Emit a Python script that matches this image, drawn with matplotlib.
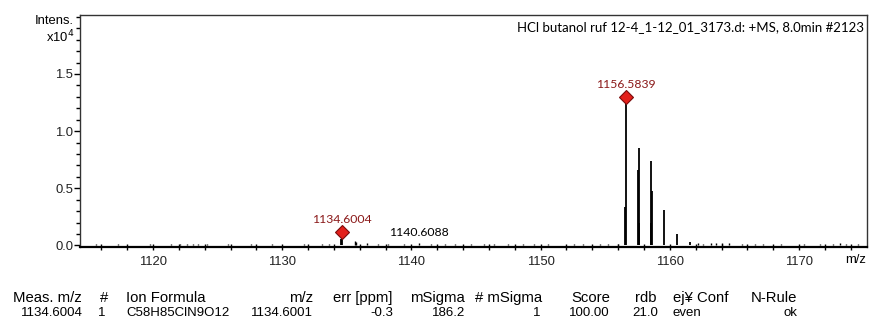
import numpy as np
import matplotlib
matplotlib.use("Agg")
import matplotlib.pyplot as plt

# spectrum data (intensity in units of 1e4)
cluster_mz = [1156.52, 1156.58, 1157.53, 1157.58, 1157.64, 1158.53, 1158.58, 1158.63, 1159.58, 1160.58, 1161.58]
cluster_int = [0.34, 1.30, 0.66, 0.85, 0.20, 0.20, 0.74, 0.48, 0.31, 0.10, 0.03]

ion_mz = [1134.58, 1134.60]
ion_int = [0.06, 0.12]

noise_mz = [1115.6, 1117.3, 1119.8, 1121.4, 1122.1, 1122.6, 1123.1, 1123.5, 1124.2, 1125.8,
            1127.6, 1129.2, 1131.7, 1133.1, 1133.6, 1135.6, 1135.7, 1136.6, 1137.4, 1138.2,
            1139.4, 1140.61, 1141.5, 1142.6, 1143.4, 1144.6, 1145.6, 1146.4, 1147.5, 1148.6,
            1149.5, 1150.6, 1152.6, 1153.3, 1154.6, 1155.2, 1156.0, 1162.2, 1162.6, 1163.2,
            1163.6, 1164.0, 1164.6, 1165.6, 1166.6, 1167.2, 1168.6, 1170.4, 1171.6, 1172.6,
            1173.2, 1173.6, 1174.6]
noise_int = [0.008, 0.010, 0.008, 0.012, 0.015, 0.010, 0.012, 0.010, 0.008, 0.010,
             0.008, 0.010, 0.008, 0.012, 0.015, 0.040, 0.030, 0.020, 0.015, 0.012,
             0.015, 0.025, 0.012, 0.015, 0.012, 0.015, 0.010, 0.012, 0.010, 0.012,
             0.010, 0.015, 0.012, 0.010, 0.012, 0.015, 0.010, 0.020, 0.015, 0.020,
             0.025, 0.020, 0.025, 0.015, 0.012, 0.010, 0.015, 0.010, 0.012, 0.015,
             0.020, 0.015, 0.012]

marked_mz = [1134.6004, 1156.5839]
marked_int = [0.12, 1.30]
plain_label_mz = 1140.6088
plain_label_int = 0.025

title = "HCl butanol ruf 12-4_1-12_01_3173.d: +MS, 8.0min #2123"

table_head = ["Meas. m/z", "#", "Ion Formula", "m/z", "err [ppm]", "mSigma", "# mSigma",
              "Score", "rdb", "ej\u00a5 Conf", "N-Rule"]
table_vals = ["1134.6004", "1", "C58H85ClN9O12", "1134.6001", "-0.3", "186.2", "1",
              "100.00", "21.0", "even", "ok"]

# pixel anchors for the table columns
head_x = [13, 100, 126, 313, 392, 465, 542, 610, 657, 673, 797]
head_ha = ["left", "left", "left", "right", "right", "right", "right", "right", "right", "left", "right"]
val_x = [83, 105, 126, 313, 393, 465, 540, 610, 658, 673, 797]
val_ha = ["right", "right", "left", "right", "right", "right", "right", "right", "right", "left", "right"]

W, H = 870, 321
fig = plt.figure(figsize=(W / 100, H / 100), dpi=100)
ax = fig.add_axes([80 / W, 1 - 246.5 / H, 787 / W, 232 / H])

ax.vlines(noise_mz, 0, noise_int, color="black", lw=1.0)
ax.vlines(ion_mz, 0, ion_int, color="black", lw=1.3)
ax.vlines(cluster_mz, 0, cluster_int, color="black", lw=1.3)
ax.plot(marked_mz, marked_int, ls="none", marker="D", ms=7,
        mfc="#e3201b", mec="#7a0c0c", mew=0.8, zorder=5)

lab_font = ["Lato", "DejaVu Sans"]
for mz, inten in zip(marked_mz, marked_int):
    ax.annotate(f"{mz:.4f}", (mz, inten), xytext=(0, 5), textcoords="offset points",
                ha="center", va="bottom", color="#8b1a1a", fontsize=8.8, family=lab_font)
ax.annotate(f"{plain_label_mz:.4f}", (plain_label_mz, plain_label_int), xytext=(0, 3),
            textcoords="offset points", ha="center", va="bottom", color="black",
            fontsize=8.8, family=lab_font)

ax.text(0.996, 0.945, title, transform=ax.transAxes, ha="right", va="center",
        fontsize=9.5, family=lab_font)

ax.set_xlim(1114.35, 1175.26)
ax.set_ylim(-0.01, 2.02)
ax.set_xticks(np.arange(1120, 1171, 10))
ax.set_xticks(np.arange(1116, 1175, 2), minor=True)
ax.set_yticks([0, 0.5, 1.0, 1.5])
ax.set_yticklabels(["0.0", "0.5", "1.0", "1.5"])
ax.set_yticks(np.arange(0, 2.01, 0.1), minor=True)

tick_font = "Liberation Sans"
for lbl in ax.get_xticklabels() + ax.get_yticklabels():
    lbl.set_family(tick_font)
    lbl.set_fontsize(9.4)
    lbl.set_color("#222222")
ax.tick_params(axis="x", which="both", direction="inout", length=5, width=1, pad=4)
ax.tick_params(axis="y", which="major", direction="out", length=4, width=1, pad=1)
ax.tick_params(axis="y", which="minor", direction="out", length=3, width=1)

for side in ["top", "right", "left"]:
    ax.spines[side].set_linewidth(1.0)
    ax.spines[side].set_color("#333333")
ax.spines["bottom"].set_linewidth(1.6)

fig.text(74 / W, 1 - 21 / H, "Intens.", ha="right", va="center", fontsize=9.4, family=tick_font)
fig.text(74 / W, 1 - 37 / H, "x10$^4$", ha="right", va="center", fontsize=9.4, family=tick_font)
fig.text(856 / W, 1 - 260 / H, "m/z", ha="center", va="center", fontsize=9.4, family=tick_font)

for txt, x, ha in zip(table_head, head_x, head_ha):
    fig.text(x / W, 1 - 297.7 / H, txt, ha=ha, va="center", fontsize=10.7, family=tick_font)
for txt, x, ha in zip(table_vals, val_x, val_ha):
    fig.text(x / W, 1 - 312.7 / H, txt, ha=ha, va="center", fontsize=9.5, family=tick_font)

fig.savefig("out.png", dpi=100)
